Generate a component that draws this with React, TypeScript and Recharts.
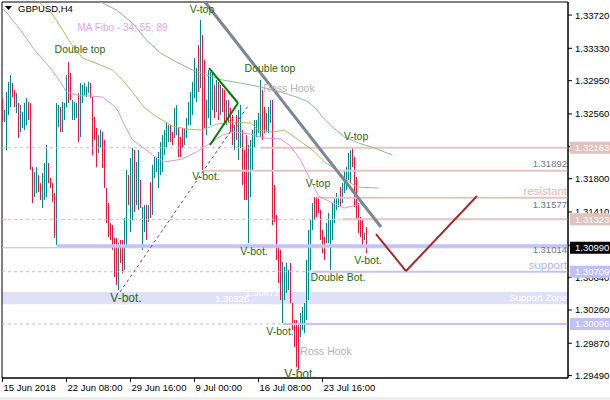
import React from 'react'
import {
  ComposedChart,
  Bar,
  Line,
  XAxis,
  YAxis,
  ReferenceLine,
  ReferenceArea,
  ReferenceDot,
} from 'recharts'

const FONT = '"Liberation Sans", Arial, sans-serif'
const TEAL = '#00898a'
const RED = '#e8173f'

// GBPUSD H4 bars from 15 Jun 2018 00:00 (index 0), high / low / direction
const HIGH = [
  1.32746, 1.32606, 1.32817, 1.32934, 1.33016, 1.32922, 1.3284, 1.32805, 1.32688, 1.32664,
  1.32582, 1.32688, 1.32746, 1.327, 1.32688, 1.31937, 1.31878, 1.31937, 1.31843, 1.31749,
  1.31867, 1.31984, 1.32195, 1.31984, 1.31808, 1.31749, 1.31632, 1.32688, 1.32664, 1.32641,
  1.327, 1.32688, 1.33016, 1.33169, 1.3304, 1.32723, 1.327, 1.32688, 1.32805, 1.32922,
  1.32899, 1.32922, 1.32876, 1.32934, 1.32922, 1.32758, 1.32524, 1.32395, 1.32312, 1.32371,
  1.32348, 1.32254, 1.31691, 1.31515, 1.3128, 1.31257, 1.31104, 1.31104, 1.31046, 1.31081,
  1.31081, 1.31339, 1.31902, 1.31843, 1.32043, 1.3216, 1.32137, 1.31996, 1.32137, 1.31785,
  1.31468, 1.31491, 1.31491, 1.31491, 1.31761, 1.31961, 1.32054, 1.32043, 1.32113, 1.3223,
  1.32312, 1.32371, 1.32465, 1.3243, 1.3243, 1.32348, 1.32629, 1.32664, 1.32395, 1.32289,
  1.32395, 1.32395, 1.32512, 1.327, 1.32817, 1.32934, 1.33216, 1.33098, 1.33368, 1.33661,
  1.33485, 1.33192, 1.32723, 1.33075, 1.33051, 1.33051, 1.32899, 1.32958, 1.32934, 1.32899,
  1.32864, 1.3284, 1.32723, 1.32723, 1.32629, 1.32547, 1.3243, 1.32547, 1.32606, 1.32664,
  1.32371, 1.32137, 1.32312, 1.32195, 1.32254, 1.32371, 1.32488, 1.32488, 1.32571, 1.32958,
  1.3284, 1.32641, 1.32571, 1.32641, 1.32723, 1.32723, 1.31726, 1.31374, 1.31022, 1.30964,
  1.30823, 1.30764, 1.30811, 1.30729, 1.30811, 1.30342, 1.30142, 1.30142, 1.30107, 1.30225,
  1.30295, 1.30342, 1.30846, 1.31198, 1.31315, 1.31515, 1.31585, 1.31585, 1.31585, 1.31433,
  1.31198, 1.31116, 1.3128, 1.31398, 1.31315, 1.31515, 1.31585, 1.31632, 1.31585, 1.31702,
  1.31749, 1.31902, 1.31937, 1.32101, 1.32137, 1.3216, 1.32054, 1.3182, 1.31515, 1.31351,
  1.31315, 1.31163, 1.31233,
]
const LOW = [
  1.32465, 1.32465, 1.32137, 1.32547, 1.32641, 1.32758, 1.32641, 1.32571, 1.32277, 1.32348,
  1.32395, 1.32371, 1.3243, 1.32488, 1.31902, 1.31515, 1.31585, 1.31632, 1.31644, 1.3155,
  1.31456, 1.3155, 1.31585, 1.31749, 1.31691, 1.31527, 1.31104, 1.31022, 1.32406, 1.32348,
  1.32348, 1.32488, 1.32641, 1.32688, 1.32723, 1.32488, 1.32488, 1.32512, 1.3223, 1.32289,
  1.32688, 1.32782, 1.32758, 1.32805, 1.32746, 1.32078, 1.32254, 1.31937, 1.32101, 1.3216,
  1.31925, 1.31691, 1.3128, 1.31116, 1.31081, 1.30964, 1.30647, 1.30553, 1.30494, 1.30811,
  1.30694, 1.30729, 1.31022, 1.31491, 1.31175, 1.31315, 1.31409, 1.31491, 1.31433, 1.31456,
  1.30964, 1.31175, 1.31081, 1.31292, 1.31339, 1.31374, 1.31808, 1.31878, 1.31691, 1.31843,
  1.31878, 1.32078, 1.3216, 1.3223, 1.3223, 1.32195, 1.32277, 1.32312, 1.32054, 1.32054,
  1.3216, 1.32195, 1.32277, 1.3243, 1.3243, 1.32547, 1.32746, 1.327, 1.32817, 1.32864,
  1.31902, 1.32395, 1.32312, 1.32512, 1.3243, 1.32606, 1.32512, 1.32582, 1.32488, 1.32547,
  1.32582, 1.3243, 1.3243, 1.32465, 1.32348, 1.32195, 1.32137, 1.32254, 1.32019, 1.3216,
  1.31726, 1.3155, 1.3155, 1.31046, 1.31585, 1.31902, 1.32172, 1.32289, 1.32336, 1.32289,
  1.32254, 1.32336, 1.32348, 1.32336, 1.32453, 1.31257, 1.31292, 1.30846, 1.30576, 1.30377,
  1.30107, 1.30377, 1.30459, 1.30494, 1.30342, 1.30025, 1.29826, 1.29591, 1.29556, 1.29943,
  1.30025, 1.2999, 1.30142, 1.30377, 1.30729, 1.31198, 1.31315, 1.31351, 1.31398, 1.31081,
  1.30928, 1.30846, 1.31046, 1.31046, 1.30729, 1.31081, 1.3128, 1.31433, 1.31468, 1.31468,
  1.31515, 1.31632, 1.31667, 1.31785, 1.31749, 1.31937, 1.31468, 1.31315, 1.31163, 1.31116,
  1.30999, 1.31081, 1.30928,
]
// u = bullish bar, d = bearish bar
const DIR = (
  'duuuuddudu' + 'uuuddduudd' + 'uuudddduud' +
  'uuudduuudu' + 'uuuudddduu' + 'ddddddddud' +
  'duuduuduud' + 'uududuuuuu' + 'uuuudduudd' +
  'duuuuuuudu' + 'dduuuududu' + 'dduddduduu' +
  'ddduuuuuuu' + 'dduuuddddd' + 'uuuudddddu' +
  'uuuuuudddd' + 'dduuuuuuud' + 'uuuuuddddd' +
  'dud'
)

// moving averages (MA Fibo 34 / 55 / 89), [bar index, price]
const MA34 = [
  [0, 1.33802], [3, 1.3372], [9, 1.33544], [16, 1.3331], [24, 1.33098], [30, 1.32899],
  [32, 1.32817], [37, 1.32782], [50, 1.32758], [57, 1.32629], [61, 1.3243], [65, 1.32254],
  [70, 1.32172], [75, 1.32078], [81, 1.31996], [90, 1.32031], [97, 1.32113], [104, 1.32219],
  [110, 1.32312], [116, 1.32348], [124, 1.32324], [131, 1.32277], [139, 1.32266], [144, 1.32183],
  [149, 1.32019], [154, 1.31785], [158, 1.31597], [164, 1.31527], [171, 1.31456], [179, 1.31503],
  [182, 1.31468],
]
const MA55 = [
  [18, 1.33873], [24, 1.33755], [27, 1.33661], [34, 1.33392], [40, 1.33216], [49, 1.33134],
  [55, 1.33075], [60, 1.32958], [65, 1.32817], [71, 1.32629], [78, 1.32512], [85, 1.32418],
  [92, 1.32383], [100, 1.32371], [107, 1.32441], [115, 1.32465], [124, 1.32453], [128, 1.32371],
  [135, 1.32348], [141, 1.32371], [148, 1.32254], [155, 1.32137], [161, 1.31996], [167, 1.31902],
  [172, 1.31785], [177, 1.31702], [188, 1.31691],
]
const MA89 = [
  [49, 1.33873], [57, 1.33779], [65, 1.33626], [72, 1.33427], [79, 1.33274], [87, 1.33169],
  [95, 1.33075], [102, 1.33016], [110, 1.32958], [119, 1.32922], [129, 1.32876], [139, 1.32817],
  [147, 1.32758], [152, 1.32711], [156, 1.32641], [160, 1.32524], [165, 1.32406], [171, 1.32289],
  [178, 1.32219], [186, 1.3216], [191, 1.32113], [195, 1.32078],
]

const TIME_TICKS = [0, 32, 64, 96, 128, 160]
const TIME_LABELS = ['15 Jun 2018', '22 Jun 08:00', '29 Jun 16:00', '9 Jul 00:00', '16 Jul 08:00', '23 Jul 16:00']
const PRICE_TICKS = [1.2949, 1.2987, 1.3026, 1.3064, 1.3102, 1.3141, 1.318, 1.3218, 1.3256, 1.3295, 1.3333, 1.3372]

// horizontal levels: price and the bar where the solid part starts
const RES_LEVELS = [1.32163, 1.31892, 1.31577, 1.31323]
const RES_START = [129, 100, 157, 170]
const RES_DASHED = [true, false, false, true]
const SUP_LEVELS = [1.31014, 1.30709, 1.30096]
const SUP_START = [27, 155, 140]
const SUP_DASHED = [false, true, true]
const SUPPORT_ZONE = [1.30326, 1.30472]
const LAST_PRICE = 1.3099

// price tags sitting on the axis
const TAG_PRICES = [1.32163, 1.31323, 1.3099, 1.30709, 1.30096]
const TAG_COLORS = ['#e0c2be', '#e0c2be', '#000000', '#c0c0f6', '#c0c0f6']

// drawn lines, [bar index, price]
const TREND_DOWN = [[101.25, 1.33873], [189.25, 1.31233]]
const TREND_UP = [[58.75, 1.30471], [122.75, 1.32653]]
const WEDGE = [[103.25, 1.33098], [117.75, 1.32688], [103.75, 1.32195]]
const PROJECTION = [[186.75, 1.31151], [201.75, 1.30717], [237.25, 1.31597]]

const NOTES = [
  { text: 'MA Fibo - 34; 55; 89', i: 60, p: 1.33568, kind: 'ma' },
  { text: 'Double top', i: 38.75, p: 1.33321, kind: 'pattern' },
  { text: 'V-top', i: 99.75, p: 1.3379, kind: 'pattern' },
  { text: 'Double top', i: 133.75, p: 1.33098, kind: 'pattern' },
  { text: 'Ross Hook', i: 143.25, p: 1.32864, kind: 'hook' },
  { text: 'V-top', i: 176.75, p: 1.32301, kind: 'pattern' },
  { text: 'V-bot.', i: 101.75, p: 1.31832, kind: 'pattern' },
  { text: 'V-top', i: 157.75, p: 1.31749, kind: 'pattern' },
  { text: 'V-bot.', i: 125.75, p: 1.30952, kind: 'pattern' },
  { text: 'V-bot.', i: 182.75, p: 1.30846, kind: 'pattern' },
  { text: 'Double Bot.', i: 167.75, p: 1.30647, kind: 'pattern' },
  { text: 'V-bot.', i: 61.75, p: 1.304, kind: 'big' },
  { text: 'V-bot.', i: 138.75, p: 1.30013, kind: 'pattern' },
  { text: 'Ross Hook', i: 161.75, p: 1.29779, kind: 'hook' },
  { text: 'V-bot.', i: 148.75, p: 1.29509, kind: 'big' },
]

const NOTE_STYLE: Record<string, { fill: string; size: number }> = {
  ma: { fill: '#e6a6e6', size: 10 },
  pattern: { fill: '#1d6b10', size: 10.5 },
  big: { fill: '#1d6b10', size: 12 },
  hook: { fill: '#b4b4b4', size: 10.5 },
}

const X_MIN = -0.25
const X_MAX = 282.75
const Y_MIN = 1.29462
const Y_MAX = 1.33873
const PLOT_H = 376
const PX_PER_PRICE = PLOT_H / (Y_MAX - Y_MIN)

const PINK = '#e2c6c2'
const PINK_DASH = '#eab8b0'
const LAVENDER = '#c2c2f8'
const LAV_DASH = '#b8b8f4'

const rows: any[] = Array.from({ length: 196 }, (_, i) => {
  const row: any = { i }
  if (i < HIGH.length) {
    row.range = [LOW[i], HIGH[i]]
    row.up = DIR[i] === 'u'
  }
  return row
})
MA34.forEach(([i, v]) => { rows[i].ma34 = v })
MA55.forEach(([i, v]) => { rows[i].ma55 = v })
MA89.forEach(([i, v]) => { rows[i].ma89 = v })

const renderBar = (props: any) => {
  const { x, y, width, height, payload } = props
  if (!payload || !payload.range) return <g />
  const top = Math.min(y, y + height)
  const h = Math.max(1, Math.abs(height))
  return <rect x={Math.round(x + width / 2 - 0.5)} y={top} width={1} height={h} fill={payload.up ? TEAL : RED} />
}

const TimeTick = (props: any) => {
  const { x, y, payload } = props
  const k = TIME_TICKS.indexOf(payload.value)
  return (
    <text x={x + 1} y={y + 7} fontSize={9.5} fontFamily={FONT} fill="#000" textAnchor="start">
      {TIME_LABELS[k]}
    </text>
  )
}

// price tick: the part of the label hidden behind an axis tag is clipped away
const PriceTick = (props: any) => {
  const { x, y, payload } = props
  const v = payload.value as number
  let pieces: number[][] = [[y - 8, y + 8]]
  TAG_PRICES.forEach((t) => {
    const c = y + (v - t) * PX_PER_PRICE
    const a = c - 6
    const b = c + 6
    pieces = pieces.flatMap(([s, e]) => {
      const out: number[][] = []
      if (a > s) out.push([s, Math.min(e, a)])
      if (b < e) out.push([Math.max(s, b), e])
      return out.filter(([s2, e2]) => e2 > s2)
    })
  })
  const id = 'ptc' + Math.round(v * 1e5)
  return (
    <g>
      <clipPath id={id}>
        {pieces.map(([s, e], k) => (
          <rect key={k} x={x - 2} y={s} width={50} height={e - s} />
        ))}
      </clipPath>
      <text x={x} y={y} fill="#000" fontSize={9.5} fontFamily={FONT}
        dominantBaseline="central" clipPath={`url(#${id})`}>
        {v.toFixed(5)}
      </text>
    </g>
  )
}

const textShape = (text: string, fill: string, size: number, anchor = 'middle', dy = 0) =>
  (p: any) => (
    <text x={p.cx} y={p.cy + dy} fill={fill} fontSize={size} fontFamily={FONT}
      textAnchor={anchor} dominantBaseline="central">
      {text}
    </text>
  )

const tagShape = (price: number, bg: string) => (p: any) => (
  <g>
    <rect x={p.cx + 2} y={p.cy - 6} width={40} height={12} fill={bg} />
    <text x={p.cx + 7} y={p.cy} fill="#fff" fontSize={9.5} fontFamily={FONT} dominantBaseline="central">
      {price.toFixed(5)}
    </text>
  </g>
)

const seg = (a: number[], b: number[]) => [{ x: a[0], y: a[1] }, { x: b[0], y: b[1] }] as any

export default function App() {
  return (
    <div style={{ position: 'absolute', left: 0, top: 0, width: 610, height: 400, background: '#fff', fontFamily: FONT }}>
      <ComposedChart width={610} height={400} data={rows} margin={{ top: 2, right: 0, bottom: 0, left: 2 }}>
        <XAxis
          type="number"
          dataKey="i"
          domain={[X_MIN, X_MAX]}
          allowDataOverflow
          ticks={TIME_TICKS}
          interval={0}
          height={22}
          tickSize={4}
          tickMargin={2}
          tick={<TimeTick />}
          axisLine={{ stroke: '#000' }}
          tickLine={{ stroke: '#000' }}
        />
        <YAxis
          orientation="right"
          type="number"
          domain={[Y_MIN, Y_MAX]}
          allowDataOverflow
          ticks={PRICE_TICKS}
          interval={0}
          width={42}
          tickSize={4}
          tickMargin={3}
          tick={<PriceTick />}
          axisLine={{ stroke: '#000' }}
          tickLine={{ stroke: '#000' }}
        />

        <ReferenceArea x1={X_MIN} x2={X_MAX} y1={SUPPORT_ZONE[0]} y2={SUPPORT_ZONE[1]}
          fill="#e0e0f8" fillOpacity={1} stroke="none" ifOverflow="visible" />

        {RES_LEVELS.map((p, k) => (
          <React.Fragment key={'r' + k}>
            {RES_DASHED[k] && (
              <ReferenceLine segment={seg([X_MIN, p], [RES_START[k], p])} stroke={PINK_DASH}
                strokeDasharray="3 3" ifOverflow="visible" />
            )}
            <ReferenceLine segment={seg([RES_START[k], p], [X_MAX, p])} stroke={PINK}
              strokeWidth={2} ifOverflow="visible" />
          </React.Fragment>
        ))}

        <ReferenceLine y={LAST_PRICE} stroke="#c0c0c0" strokeWidth={1} />

        {SUP_LEVELS.map((p, k) => (
          <React.Fragment key={'s' + k}>
            {SUP_DASHED[k] && (
              <ReferenceLine segment={seg([X_MIN, p], [SUP_START[k], p])} stroke={LAV_DASH}
                strokeDasharray="3 3" ifOverflow="visible" />
            )}
            <ReferenceLine segment={seg([SUP_START[k], p], [X_MAX, p])} stroke={LAVENDER}
              strokeWidth={k === 0 ? 3 : 2} ifOverflow="visible" />
          </React.Fragment>
        ))}

        <Line dataKey="ma34" stroke="#dc96dc" strokeWidth={1} dot={false} connectNulls isAnimationActive={false} />
        <Line dataKey="ma55" stroke="#bcb468" strokeWidth={1} dot={false} connectNulls isAnimationActive={false} />
        <Line dataKey="ma89" stroke="#8cbc8c" strokeWidth={1} dot={false} connectNulls isAnimationActive={false} />

        <Bar dataKey="range" barSize={1} shape={renderBar} isAnimationActive={false} />

        <ReferenceLine segment={seg(TREND_DOWN[0], TREND_DOWN[1])} stroke="#7b8796" strokeWidth={3} ifOverflow="visible" />
        <ReferenceLine segment={seg(TREND_UP[0], TREND_UP[1])} stroke="#555" strokeDasharray="3 3" ifOverflow="visible" />
        <ReferenceLine segment={seg(WEDGE[0], WEDGE[1])} stroke="#008000" strokeWidth={2} ifOverflow="visible" />
        <ReferenceLine segment={seg(WEDGE[1], WEDGE[2])} stroke="#008000" strokeWidth={2} ifOverflow="visible" />
        <ReferenceLine segment={seg(PROJECTION[0], PROJECTION[1])} stroke="#a52a2a" strokeWidth={2} ifOverflow="visible" />
        <ReferenceLine segment={seg(PROJECTION[1], PROJECTION[2])} stroke="#a52a2a" strokeWidth={2} ifOverflow="visible" />

        <ReferenceArea x1={X_MIN} x2={X_MAX} y1={Y_MIN} y2={Y_MAX} fill="none" stroke="#000" ifOverflow="visible" />

        {NOTES.map((n, k) => (
          <ReferenceDot key={'n' + k} x={n.i} y={n.p} r={0} ifOverflow="visible"
            shape={textShape(n.text, NOTE_STYLE[n.kind].fill, NOTE_STYLE[n.kind].size)} />
        ))}

        <ReferenceDot x={282.25} y={RES_LEVELS[1]} r={0} ifOverflow="visible"
          shape={textShape('1.31892', '#6f7889', 9.5, 'end', -7)} />
        <ReferenceDot x={282.25} y={RES_LEVELS[2]} r={0} ifOverflow="visible"
          shape={textShape('resistant', '#e2b8b0', 11.5, 'end', -7)} />
        <ReferenceDot x={282.25} y={RES_LEVELS[2]} r={0} ifOverflow="visible"
          shape={textShape('1.31577', '#6f7889', 9.5, 'end', 7)} />
        <ReferenceDot x={282.25} y={SUP_LEVELS[0]} r={0} ifOverflow="visible"
          shape={textShape('1.31014', '#6f7889', 9.5, 'end', 4)} />
        <ReferenceDot x={282.25} y={SUP_LEVELS[1]} r={0} ifOverflow="visible"
          shape={textShape('support', '#b4b4f0', 11.5, 'end', -7)} />
        <ReferenceDot x={282.25} y={SUPPORT_ZONE[0]} r={0} ifOverflow="visible"
          shape={textShape('Support Zone', '#ffffff', 9.5, 'end', -7)} />
        <ReferenceDot x={106.25} y={SUPPORT_ZONE[0]} r={0} ifOverflow="visible"
          shape={textShape('1.30326', '#ffffff', 9.5, 'start', -6)} />
        <ReferenceDot x={121.25} y={SUPPORT_ZONE[1]} r={0} ifOverflow="visible"
          shape={textShape('1.30472', '#ffffff', 9.5, 'start', 1)} />

        {TAG_PRICES.map((p, k) => (
          <ReferenceDot key={'t' + k} x={X_MAX} y={p} r={0} ifOverflow="visible"
            shape={tagShape(p, TAG_COLORS[k])} />
        ))}
      </ComposedChart>

      <div style={{ position: 'absolute', left: 5, top: 3, display: 'flex', alignItems: 'center', fontSize: 9.5, color: '#000' }}>
        <svg width={8} height={5} style={{ marginRight: 5 }}>
          <polygon points="0,0 7,0 3.5,4" fill="#000" />
        </svg>
        <span>GBPUSD,H4</span>
      </div>
      <div style={{ position: 'absolute', left: 0, top: 397, width: 610, height: 3, background: '#eeeeee' }} />
    </div>
  )
}
